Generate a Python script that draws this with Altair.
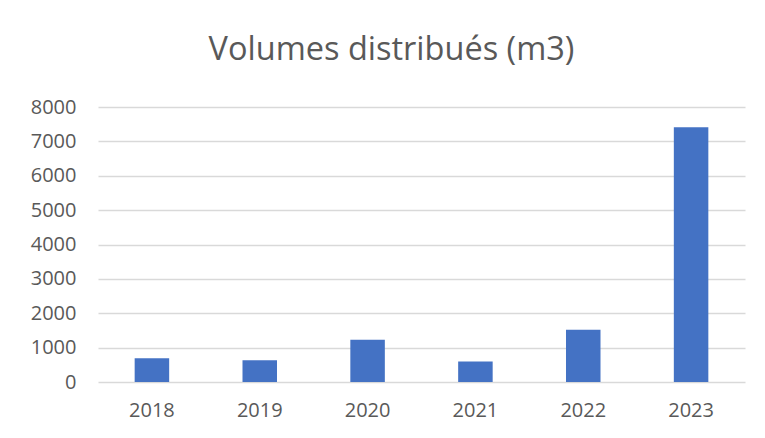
import altair as alt
import pandas as pd

years = ["2018", "2019", "2020", "2021", "2022", "2023"]
volumes = [690, 635, 1230, 600, 1520, 7410]
y_ticks = [0, 1000, 2000, 3000, 4000, 5000, 6000, 7000, 8000]

df = pd.DataFrame({"year": years, "volume": volumes})

FONT = "Open Sans"
GREY = "#595959"

chart = (
    alt.Chart(df)
    .mark_bar(color="#4472c4")
    .encode(
        x=alt.X(
            "year:N",
            sort=years,
            title=None,
            scale=alt.Scale(paddingInner=0.68, paddingOuter=0.34),
            axis=alt.Axis(
                labelAngle=0,
                ticks=False,
                domain=False,
                labelFont=FONT,
                labelFontSize=20,
                labelColor=GREY,
                labelPadding=18,
            ),
        ),
        y=alt.Y(
            "volume:Q",
            title=None,
            scale=alt.Scale(domain=[0, 8000], nice=False),
            axis=alt.Axis(
                values=y_ticks,
                format="d",
                ticks=False,
                domain=False,
                labelFont=FONT,
                labelFontSize=20,
                labelColor=GREY,
                labelPadding=22,
                gridColor="#d9d9d9",
                gridWidth=1.5,
            ),
        ),
    )
    .properties(
        width=647,
        height=275,
        autosize=alt.AutoSizeParams(type="none"),
        padding={"left": 90, "top": 99, "right": 10, "bottom": 40},
        title=alt.TitleParams(
            "Volumes distribués (m3)",
            font=FONT,
            fontSize=32.5,
            fontWeight="normal",
            color=GREY,
            anchor="middle",
            dx=-30,
            offset=31,
        ),
    )
    .configure_view(stroke=None)
)

chart.save("out.html", embed_options={"renderer": "svg", "actions": False})
